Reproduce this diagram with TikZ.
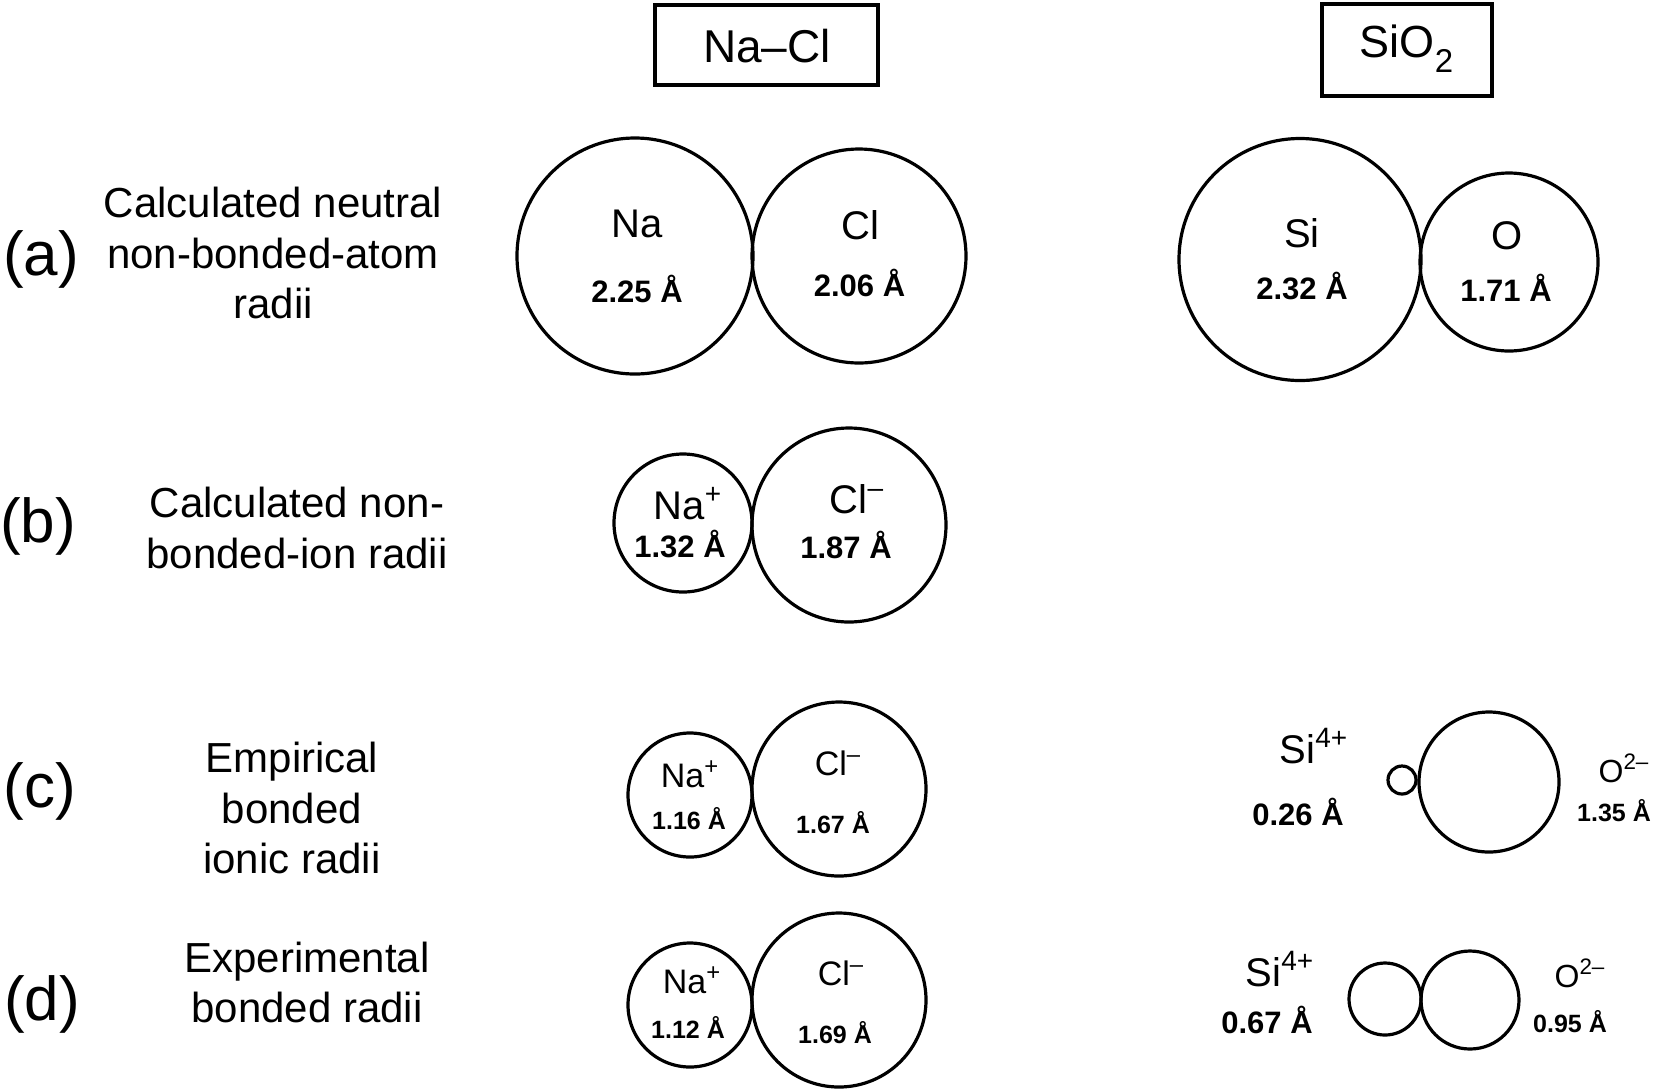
\documentclass[tikz,border=0pt]{standalone}
\usepackage{fontspec}
\setmainfont{Liberation Sans}
\newcommand{\setfs}[1]{\fontsize{#1pt}{#1pt}\selectfont}
\begin{document}
\begin{tikzpicture}[x=0.5pt,y=-0.5pt,
  ring/.style={circle,draw,line width=1.6pt,inner sep=0pt},
  titlebox/.style={draw,line width=2pt,inner sep=0pt,rectangle},
  txt/.style={anchor=base,inner sep=0pt},
  rowtag/.style={txt,font=\setfs{31}},
  rowtext/.style={txt,font=\setfs{21}},
  titletext/.style={txt,font=\setfs{23}},
  elem/.style={txt,font=\setfs{20}},
  elemsmall/.style={txt,font=\setfs{17}},
  oxy/.style={txt,font=\setfs{16}},
  val/.style={txt,font=\bfseries\setfs{15.5}},
  valsmall/.style={txt,font=\bfseries\setfs{12.5}}
]
\useasboundingbox (0,0) rectangle (1654,1089);

% titles
\node[titlebox,minimum width=111.5pt,minimum height=40pt] (boxNaCl) at (766.5,45) {};
\node[titletext] (tNaCl) at (767,62) {Na–Cl};
\node[titlebox,minimum width=85pt,minimum height=46.25pt] (boxSiO) at (1407,50.2) {};
\node[titletext,font=\setfs{22.5}] (tSiO) at (1406.5,57) {SiO\raisebox{-7.5pt}{\setfs{16.5}2}};

% row labels
\node[rowtag] (ra) at (41,275) {(a)};
\node[rowtext] (ra1) at (273,217) {Calculated neutral};
\node[rowtext] (ra2) at (273,268) {non-bonded-atom};
\node[rowtext] (ra3) at (273,318) {radii};

\node[rowtag] (rb) at (38,542) {(b)};
\node[rowtext] (rb1) at (297,517) {Calculated non-};
\node[rowtext] (rb2) at (297,568) {bonded-ion radii};

\node[rowtag] (rc) at (40,807) {(c)};
\node[rowtext] (rc1) at (292,772) {Empirical};
\node[rowtext] (rc2) at (292,823) {bonded};
\node[rowtext] (rc3) at (292,873) {ionic radii};

\node[rowtag] (rd) at (42,1020) {(d)};
\node[rowtext] (rd1) at (307,972) {Experimental};
\node[rowtext] (rd2) at (307,1022) {bonded radii};

% row (a)
\node[ring,minimum size=118pt] (naA) at (635,256) {};
\node[ring,minimum size=107pt] (clA) at (859,256) {};
\node[ring,minimum size=121pt] (siA) at (1300,259.5) {};
\node[ring,minimum size=89pt] (oA) at (1509,262) {};
\node[elem] (naAl) at (637.5,237) {Na};
\node[val] (naAv) at (637,302) {2.25 Å};
\node[elem] (clAl) at (860,239) {Cl};
\node[val] (clAv) at (859.5,296) {2.06 Å};
\node[elem] (siAl) at (1302,247) {Si};
\node[val] (siAv) at (1302,299) {2.32 Å};
\node[elem] (oAl) at (1507,249) {O};
\node[val] (oAv) at (1506,301) {1.71 Å};

% row (b)
\node[ring,minimum size=69pt] (naB) at (683,523) {};
\node[ring,minimum size=97pt] (clB) at (849,525) {};
\node[elem] (naBl) at (688,519) {Na\textsuperscript{+}};
\node[val] (naBv) at (680,557) {1.32 Å};
\node[elem] (clBl) at (857,513) {Cl\textsuperscript{–}};
\node[val] (clBv) at (846,558) {1.87 Å};

% row (c)
\node[ring,minimum size=62pt] (naC) at (690,795) {};
\node[ring,minimum size=87pt] (clC) at (839,789) {};
\node[elemsmall] (naCl) at (690,787) {Na\textsuperscript{+}};
\node[valsmall] (naCv) at (689,829) {1.16 Å};
\node[elemsmall] (clCl) at (838,775) {Cl\textsuperscript{–}};
\node[valsmall] (clCv) at (833,833) {1.67 Å};

\node[ring,minimum size=14pt] (siC) at (1402,780) {};
\node[ring,minimum size=70pt] (oC) at (1489,782) {};
\node[elem] (siCl) at (1314,763) {Si\textsuperscript{4+}};
\node[val] (siCv) at (1298,825) {0.26 Å};
\node[oxy] (oCl) at (1624,782) {O\textsuperscript{2–}};
\node[valsmall] (oCv) at (1614,821) {1.35 Å};

% row (d)
\node[ring,minimum size=62pt] (naD) at (690,1005) {};
\node[ring,minimum size=87pt] (clD) at (839,1000) {};
\node[elemsmall] (naDl) at (692,993) {Na\textsuperscript{+}};
\node[valsmall] (naDv) at (688,1038) {1.12 Å};
\node[elemsmall] (clDl) at (841,985) {Cl\textsuperscript{–}};
\node[valsmall] (clDv) at (835,1043) {1.69 Å};

\node[ring,minimum size=36pt] (siD) at (1385,999) {};
\node[ring,minimum size=49pt] (oD) at (1470,1000) {};
\node[elem] (siDl) at (1280,986) {Si\textsuperscript{4+}};
\node[val] (siDv) at (1267,1033) {0.67 Å};
\node[oxy] (oDl) at (1580,987) {O\textsuperscript{2–}};
\node[valsmall] (oDv) at (1570,1032) {0.95 Å};
\end{tikzpicture}
\end{document}
